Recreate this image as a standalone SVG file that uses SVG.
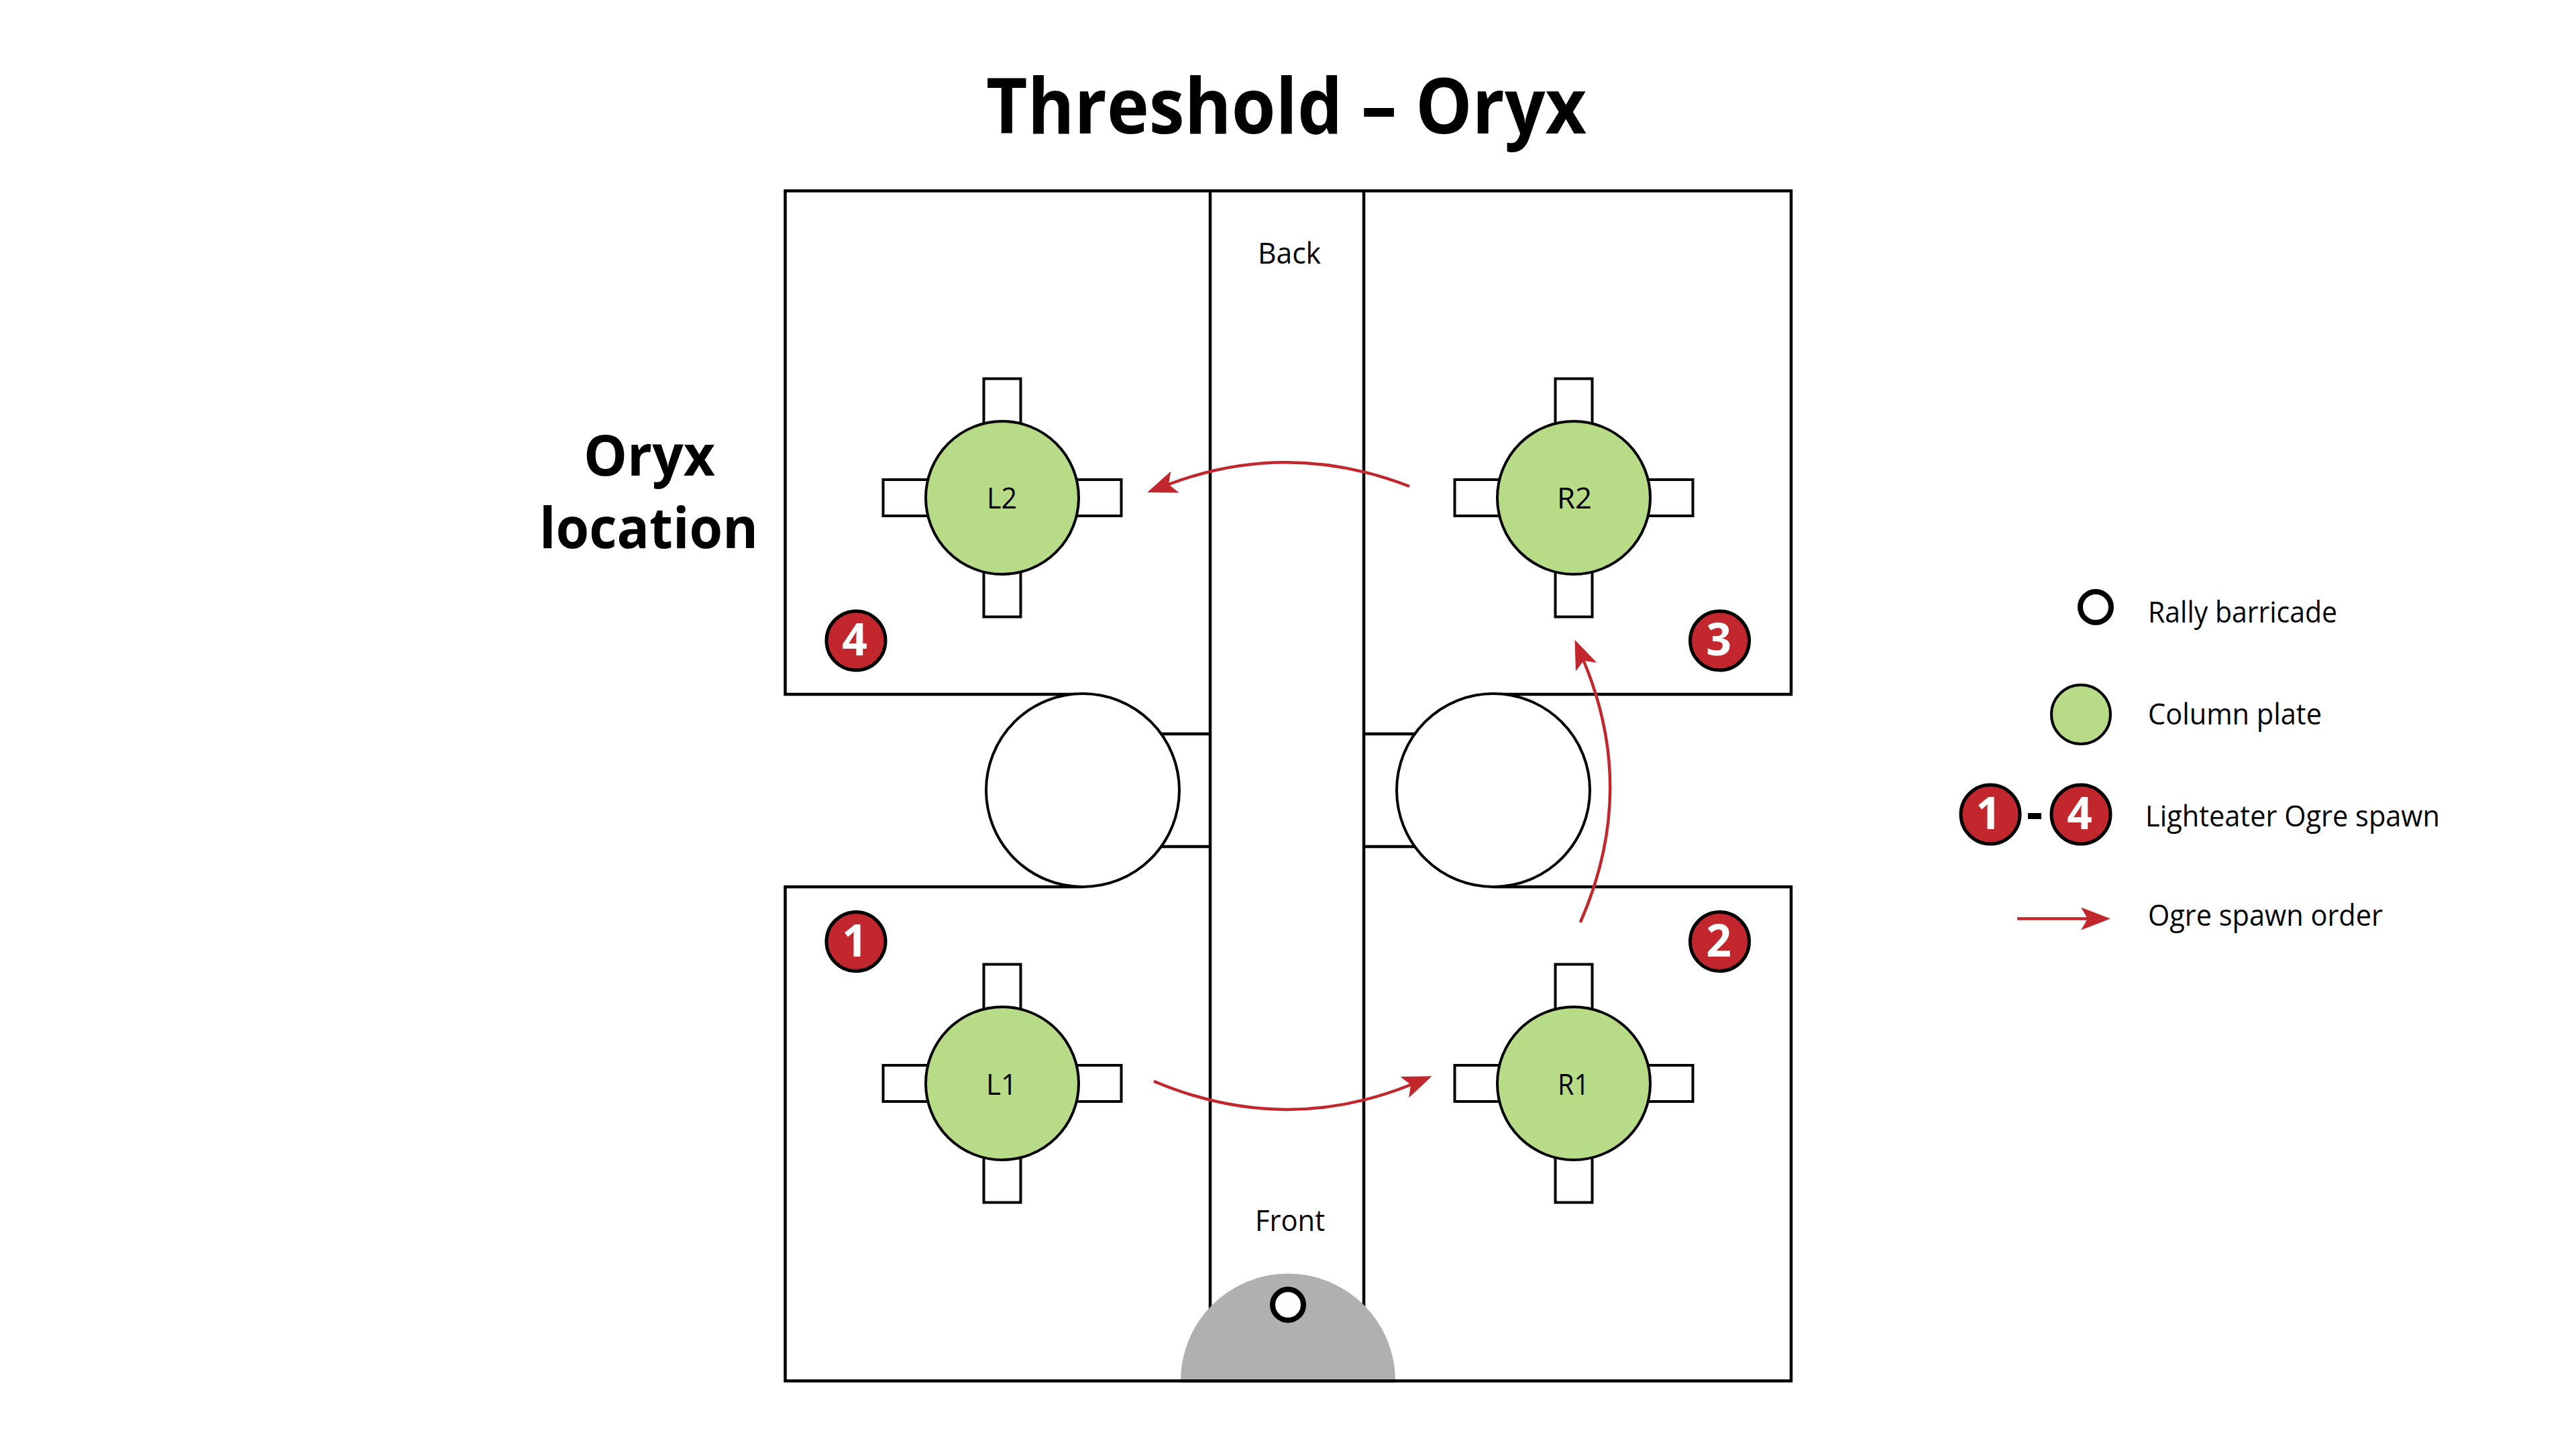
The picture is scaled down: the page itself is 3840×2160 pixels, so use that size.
<svg xmlns="http://www.w3.org/2000/svg" width="3840" height="2160" viewBox="0 0 3840 2160">
<style>
text{font-family:"Open Sans","Noto Sans","Liberation Sans",sans-serif;fill:#000}
.l{font-size:44px}
.t{font-size:114px;font-weight:700}
.o{font-size:84px;font-weight:700}
.d{font-size:66px;font-weight:700;fill:#fff;text-anchor:middle}
.w{fill:none;stroke:#000;stroke-width:4.5}
.s{fill:#fff;stroke:#000;stroke-width:4}
.p{fill:#B7DB87;stroke:#000;stroke-width:4}
.b{fill:#C1272D;stroke:#000;stroke-width:5}
.a{fill:none;stroke:#C1272D;stroke-width:4.5}
</style>
<defs>
<marker id="h" markerUnits="userSpaceOnUse" markerWidth="46" markerHeight="36" refX="10" refY="17" orient="auto"><path d="M0,0L10,17L0,34L44,17Z" fill="#C1272D"/></marker>
<g id="stubs"><rect class="s" x="-27.5" y="-177.5" width="55" height="355"/><rect class="s" x="-177.5" y="-27" width="355" height="54"/></g>
</defs>
<rect width="3840" height="2160" fill="#fff"/>
<text class="t" x="1470" y="199" textLength="895" lengthAdjust="spacingAndGlyphs">Threshold – Oryx</text>
<text class="o" x="870" y="709" textLength="196" lengthAdjust="spacingAndGlyphs">Oryx</text>
<text class="o" x="804" y="817" textLength="326" lengthAdjust="spacingAndGlyphs">location</text>
<g id="walls">
<path class="w" d="M1804,284.5H1170.5V1035H1614M2226,1035H2670V284.5H1804M1614,1322H1170.5V2058.5H2670V1322H2226"/>
<path class="w" d="M1804,284.5V2058M2033,284.5V2058M1804,1094H1700M1804,1262H1700M2033,1094H2150M2033,1262H2150"/>
</g>
<g id="alcove-left"><circle class="s" cx="1614" cy="1178" r="144"/></g>
<g id="alcove-right"><circle class="s" cx="2226" cy="1178" r="144"/></g>
<g id="spawn-area"><path d="M1760,2058.5A160,160 0 0 1 2080,2058.5Z" fill="#B0B0B0"/><path d="M1760,2058.5H2080" class="w"/><circle cx="1920" cy="1945" r="23" fill="#fff" stroke="#000" stroke-width="8"/></g>
<g id="L2"><use href="#stubs" x="1494" y="742"/><circle class="p" cx="1494" cy="742" r="114"/><text class="l" x="1471" y="758" textLength="45" lengthAdjust="spacingAndGlyphs">L2</text></g>
<g id="R2"><use href="#stubs" x="2346" y="742"/><circle class="p" cx="2346" cy="742" r="114"/><text class="l" x="2321" y="758" textLength="52" lengthAdjust="spacingAndGlyphs">R2</text></g>
<g id="L1"><use href="#stubs" x="1494" y="1615"/><circle class="p" cx="1494" cy="1615" r="114"/><text class="l" x="1470" y="1632" textLength="46" lengthAdjust="spacingAndGlyphs">L1</text></g>
<g id="R1"><use href="#stubs" x="2346" y="1615"/><circle class="p" cx="2346" cy="1615" r="114"/><text class="l" x="2322" y="1632" textLength="47" lengthAdjust="spacingAndGlyphs">R1</text></g>
<g id="badge-1"><circle class="b" cx="1276" cy="1403.5" r="44"/><text class="d" x="1274" y="1426">1</text></g>
<g id="badge-2"><circle class="b" cx="2563.5" cy="1403.5" r="44"/><text class="d" x="2562" y="1426">2</text></g>
<g id="badge-3"><circle class="b" cx="2563.5" cy="955" r="44"/><text class="d" x="2562" y="977">3</text></g>
<g id="badge-4"><circle class="b" cx="1276" cy="955" r="44"/><text class="d" x="1274" y="977">4</text></g>
<text class="l" x="1875" y="393" textLength="94" lengthAdjust="spacingAndGlyphs">Back</text>
<text class="l" x="1871" y="1835" textLength="104" lengthAdjust="spacingAndGlyphs">Front</text>
<g id="connectors">
<path class="a" marker-end="url(#h)" d="M1720,1611.7Q1913,1693.4 2103,1617"/>
<path class="a" marker-end="url(#h)" d="M2355.8,1375Q2442,1179 2360.7,985"/>
<path class="a" marker-end="url(#h)" d="M2101,725Q1920,655 1742,722"/>
</g>
<g id="legend">
<circle cx="3124" cy="905" r="23" fill="#fff" stroke="#000" stroke-width="8"/>
<text class="l" x="3202" y="928" textLength="282" lengthAdjust="spacingAndGlyphs">Rally barricade</text>
<circle class="p" cx="3102" cy="1065" r="44"/>
<text class="l" x="3202" y="1080" textLength="259" lengthAdjust="spacingAndGlyphs">Column plate</text>
<circle class="b" cx="2967" cy="1214" r="44"/><text class="d" x="2964" y="1236">1</text>
<rect x="3023" y="1212" width="20" height="9" fill="#000"/>
<circle class="b" cx="3102" cy="1214" r="44"/><text class="d" x="3100" y="1236">4</text>
<text class="l" x="3198" y="1232" textLength="439" lengthAdjust="spacingAndGlyphs">Lighteater Ogre spawn</text>
<path class="a" marker-end="url(#h)" d="M3007,1369.5H3112"/>
<text class="l" x="3202" y="1380" textLength="350" lengthAdjust="spacingAndGlyphs">Ogre spawn order</text>
</g>
</svg>
